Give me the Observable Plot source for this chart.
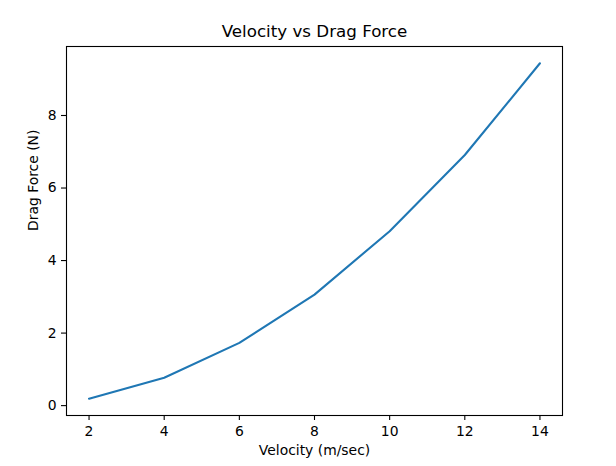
<!DOCTYPE html>
<html>
<head>
<meta charset="utf-8">
<script src="https://cdn.jsdelivr.net/npm/d3@7"></script>
<script src="https://cdn.jsdelivr.net/npm/@observablehq/plot@0.6"></script>
<style>
  html, body { margin: 0; padding: 0; background: #fff; }
</style>
</head>
<body>
<div id="chart"></div>
<script>
const velocity = [2, 4, 6, 8, 10, 12, 14];
const dragForce = [0.19, 0.77, 1.73, 3.06, 4.81, 6.91, 9.44];
const xTicks = [2, 4, 6, 8, 10, 12, 14];
const yTicks = [0, 2, 4, 6, 8];
const title = "Velocity vs Drag Force";
const xLabel = "Velocity (m/sec)";
const yLabel = "Drag Force (N)";

const data = velocity.map((v, i) => ({v, f: dragForce[i]}));
const pad = (ext) => { const r = ext[1] - ext[0]; return [ext[0] - 0.05 * r, ext[1] + 0.05 * r]; };

const chart = Plot.plot({
  width: 616,
  height: 466,
  marginLeft: 66,
  marginRight: 54,
  marginTop: 46,
  marginBottom: 51,
  style: {fontFamily: "'DejaVu Sans', sans-serif", fontSize: "13.9px", background: "#fff", color: "#000"},
  x: {domain: pad(d3.extent(velocity))},
  y: {domain: pad(d3.extent(dragForce))},
  marks: [
    Plot.frame({stroke: "#000", strokeWidth: 1.1}),
    Plot.axisX({ticks: xTicks, tickSize: 5, tickPadding: 6, label: null, tickFormat: d => String(d), strokeWidth: 1.1}),
    Plot.axisY({ticks: yTicks, tickSize: 5, tickPadding: 5, label: null, tickFormat: d => String(d), strokeWidth: 1.1}),
    Plot.line(data, {x: "v", y: "f", stroke: "#1f77b4", strokeWidth: 2.1}),
    Plot.text([title], {frameAnchor: "top", dy: -15, lineAnchor: "middle", fontSize: 16.7, fill: "#000"}),
    Plot.text([xLabel], {frameAnchor: "bottom", dy: 35, lineAnchor: "middle", fontSize: 13.9, fill: "#000"}),
    Plot.text([yLabel], {frameAnchor: "left", dx: -33, rotate: -90, lineAnchor: "middle", fontSize: 13.9, fill: "#000"})
  ]
});
document.getElementById("chart").appendChild(chart);
</script>
</body>
</html>
